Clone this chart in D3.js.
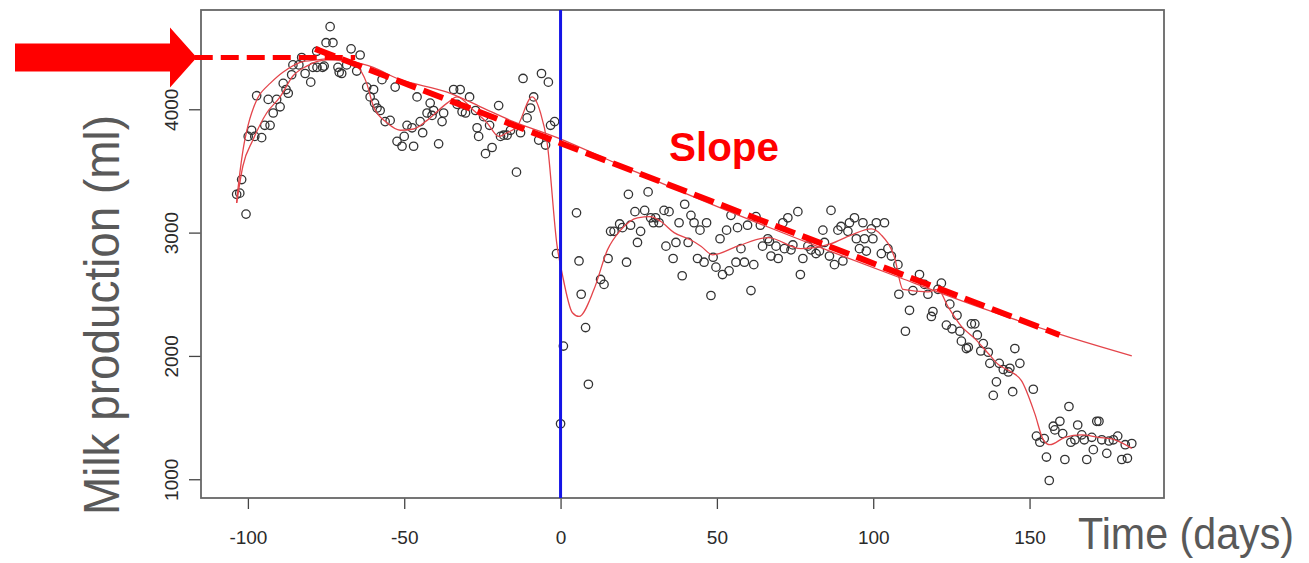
<!DOCTYPE html>
<html><head><meta charset="utf-8">
<script src="https://cdn.jsdelivr.net/npm/d3@7"></script>
<style>html,body{margin:0;padding:0;background:#fff;} svg{display:block}</style>
</head><body>
<svg id="c" width="1309" height="563"></svg>
<script>
// ---- data ----
const days = [-103.6,-102.6,-102.0,-100.6,-99.9,-98.8,-97.8,-97.2,-95.6,-94.6,-93.5,-92.9,-91.9,-90.8,-89.7,-88.7,-87.8,-87.1,-86.0,-85.6,-83.7,-82.8,-81.7,-79.9,-79.2,-78.0,-77.9,-76.1,-75.6,-75.0,-73.7,-72.8,-71.2,-70.8,-70.0,-68.4,-67.0,-65.2,-64.1,-62.0,-60.9,-59.8,-59.5,-58.7,-57.7,-57.1,-56.1,-54.5,-52.9,-52.3,-50.7,-50.0,-49.1,-47.5,-47.0,-45.9,-44.9,-44.1,-42.7,-41.7,-41.1,-40.6,-39.0,-37.9,-37.4,-34.2,-33.1,-32.1,-31.5,-30.4,-29.1,-27.2,-26.7,-26.2,-24.6,-24.0,-22.7,-21.9,-19.8,-19.2,-18.2,-17.1,-16.0,-14.1,-12.8,-12.0,-10.7,-9.6,-8.6,-7.0,-6.1,-4.8,-3.9,-3.2,-1.9,-1.3,0,0.9,5.1,5.9,6.6,8.0,8.9,12.8,13.9,15.2,16.0,17.1,18.9,19.8,21.1,21.7,22.4,23.8,24.6,25.6,26.9,28.0,28.8,29.7,30.4,31.5,33.1,33.7,34.7,36.0,36.9,37.9,38.9,39.7,40.8,41.7,42.7,43.8,44.6,45.9,46.7,48.1,48.8,49.7,51.0,51.8,53.1,53.9,54.5,56.1,56.6,57.7,58.8,59.8,60.9,61.8,62.5,63.9,64.6,66.3,66.8,67.3,68.9,69.6,71.1,71.6,72.7,73.7,74.3,75.9,76.7,77.5,79.1,80.1,81.7,82.8,83.9,84.4,86.0,86.5,87.6,88.7,89.7,90.3,91.9,92.4,94.0,94.6,95.6,96.7,97.2,97.8,99.4,99.9,101.0,102.6,103.6,104.7,105.8,107.9,108.2,110.3,111.6,112.7,114.8,116.4,117.5,118.6,119.1,120.7,121.8,123.4,124.5,125.2,126.8,127.7,128.2,129.8,130.4,131.4,132.5,133.3,134.4,135.2,136.8,137.3,138.4,139.4,140.3,141.6,143.2,143.7,144.6,145.3,146.9,151.2,152.2,153.3,154.7,155.4,156.3,157.6,158.1,159.7,160.6,161.3,162.6,163.2,164.5,165.4,166.7,167.5,168.3,169.9,170.4,171.5,172.2,173.1,174.7,175.4,176.8,178.2,179.5,180.6,181.3,182.7];
const milk = [3310,3320,3430,3150,3780,3830,3780,4110,3770,3870,4080,3870,3970,4080,4020,4210,4160,4130,4280,4360,4360,4420,4290,4220,4340,4470,4340,4340,4350,4540,4670,4540,4340,4300,4290,4360,4490,4310,4440,4180,4100,4160,4050,4010,3990,4240,3900,3910,4180,3740,3700,3780,3870,3850,3700,4100,3900,3810,3970,4050,3950,3990,3720,3900,3970,4160,4040,4160,3980,3970,4100,3990,3850,3780,3940,3640,3870,3690,4030,3780,3790,3790,3830,3490,3810,4250,3930,4010,4100,3750,4290,3710,4220,3870,3900,2830,1450,2080,3160,2770,2500,2230,1770,2620,2580,2790,3010,3010,3070,3040,2760,3310,3060,3170,2920,3010,3180,3330,3120,3080,3120,3080,3180,2890,3170,2790,2920,3080,2650,3230,2920,3140,3080,2790,3020,2760,3080,2490,2800,2720,2950,2660,3020,2690,3140,2760,3040,2870,2760,3060,2530,2740,3130,3060,2890,2950,2930,2810,2890,2790,3080,2870,3120,2860,2900,3170,2660,2790,2890,2860,2830,2850,3020,2920,2810,3180,2740,3020,3050,2770,3010,3080,3120,2950,2870,3080,2950,2850,3030,2950,3080,2830,3080,2870,2810,2740,2500,2200,2370,2530,2660,2580,2500,2320,2360,2540,2590,2250,2420,2220,2330,2200,2120,2060,2070,2260,2260,2170,2040,2100,2030,1940,1680,1790,1940,1890,1870,1900,1710,2060,1940,1730,1350,1300,1330,1180,990,1430,1400,1470,1370,1160,1590,1300,1320,1440,1360,1320,1160,1340,1240,1470,1470,1320,1210,1310,1320,1350,1160,1280,1170,1290];

// fitted lactation curve (smooth red)
const fitDays = [-103.6,-102.6,-101.0,-98.8,-96.2,-92.9,-88.8,-83.3,-78.0,-72.8,-67.3,-59.9,-51.3,-36.3,-25.6,-15.1,-1.1,22.4,44.9,76.9,109.0,134.6,160.3,182.7];
const fitMilk = [3240,3480,3750,3970,4120,4210,4300,4380,4400,4410,4390,4340,4240,4140,4020,3900,3770,3510,3265,2940,2630,2390,2170,2000];

// local smoother through the points (wiggly red)
const smoothDays = [-103.6,-101.6,-98.4,-94.0,-89.7,-85.6,-81.2,-74.8,-68.9,-65.2,-62.0,-59.8,-55.5,-51.3,-47.0,-42.7,-36.3,-33.1,-27.8,-23.5,-19.8,-17.1,-13.9,-9.1,-6.4,-4.3,-1.1,0.5,3.8,5.9,10.7,15.0,19.2,24.6,28.8,32.1,36.3,41.7,44.9,48.6,56.6,66.3,76.9,86.5,92.9,99.4,102.6,106.8,109.5,117.5,120.7,123.9,128.2,132.5,136.8,140.0,144.2,147.4,151.7,154.4,156.5,161.3,166.7,172.0,177.3,182.7];
const smoothMilk = [3240,3540,3750,3970,4100,4270,4350,4400,4390,4350,4210,4020,3890,3830,3840,3910,4050,4100,3990,3890,3780,3810,3860,4100,3970,3730,2890,2670,2350,2320,2540,2860,3020,3120,3130,3090,3000,2940,2890,2820,2890,2960,2870,2910,2980,3030,2980,2800,2540,2520,2540,2400,2240,2140,2020,1930,1870,1800,1530,1320,1280,1340,1360,1340,1320,1250];

// annotation lines
const slopeDays = [-78.5, 159.6];
const slopeMilk = [4490, 2170];
const peakDays = [-117, -65.7];
const peakMilk = [4420, 4420];
const changeDay = 0;

const xTicks = [-100, -50, 0, 50, 100, 150];
const yTicks = [1000, 2000, 3000, 4000];

const xTitle = "Time (days)";
const yTitle = "Milk production (ml)";
const slopeLabel = "Slope";

// ---- drawing ----
const svg = d3.select("#c");
const L = 201, R = 1164, T = 10, B = 498;
const x = d3.scaleLinear().domain([-115, 193]).range([L, R]);
const y = d3.scaleLinear().domain([848, 4805]).range([B, T]);
const fmt = d => String(d);

// axes
const xa = svg.append("g").attr("transform", `translate(0,${B})`)
  .call(d3.axisBottom(x).tickValues(xTicks).tickSize(11).tickFormat(fmt));
xa.select(".domain").remove();
xa.selectAll("line").attr("stroke", "#444").attr("stroke-width", 1.3);
xa.selectAll("text").attr("y", 46).attr("dy", 0)
  .attr("font-family", "Liberation Sans, Arial, sans-serif").attr("font-size", 19).attr("fill", "#2a2a2a");

const ya = svg.append("g").attr("transform", `translate(${L},0)`)
  .call(d3.axisLeft(y).tickValues(yTicks).tickSize(12).tickFormat(fmt));
ya.select(".domain").remove();
ya.selectAll("line").attr("stroke", "#444").attr("stroke-width", 1.3);
ya.selectAll("text").attr("x", 0).attr("y", -23).attr("dy", 0)
  .attr("transform", "rotate(-90)").attr("text-anchor", "middle")
  .attr("font-family", "Liberation Sans, Arial, sans-serif").attr("font-size", 19).attr("fill", "#2a2a2a");

// box
svg.append("rect").attr("x", L).attr("y", T).attr("width", R - L).attr("height", B - T)
  .attr("fill", "none").attr("stroke", "#666").attr("stroke-width", 1.8);

// points
const pts = days.map((d, i) => [d, milk[i]]);
svg.append("g").selectAll("circle").data(pts).join("circle")
  .attr("cx", d => x(d[0])).attr("cy", d => y(d[1])).attr("r", 4.2)
  .attr("fill", "none").attr("stroke", "#333").attr("stroke-width", 1.3);

// smooth curves
const fit = fitDays.map((d, i) => [d, fitMilk[i]]);
const sm = smoothDays.map((d, i) => [d, smoothMilk[i]]);
svg.append("path").attr("d", d3.line().x(d => x(d[0])).y(d => y(d[1])).curve(d3.curveCatmullRom)(fit))
  .attr("fill", "none").attr("stroke", "#e4454b").attr("stroke-width", 1.3);
svg.append("path").attr("d", d3.line().x(d => x(d[0])).y(d => y(d[1])).curve(d3.curveMonotoneX)(sm))
  .attr("fill", "none").attr("stroke", "#e4454b").attr("stroke-width", 1.3);

// vertical line
svg.append("line").attr("x1", x(changeDay)).attr("x2", x(changeDay)).attr("y1", T).attr("y2", B)
  .attr("stroke", "#1414e6").attr("stroke-width", 3);

// dashed annotation lines
svg.append("line").attr("x1", x(peakDays[0])).attr("x2", x(peakDays[1]))
  .attr("y1", y(peakMilk[0])).attr("y2", y(peakMilk[1]))
  .attr("stroke", "#ff0000").attr("stroke-width", 5).attr("stroke-dasharray", "18,8");
svg.append("line").attr("x1", x(slopeDays[0])).attr("x2", x(slopeDays[1]))
  .attr("y1", y(slopeMilk[0])).attr("y2", y(slopeMilk[1]))
  .attr("stroke", "#ff0000").attr("stroke-width", 6).attr("stroke-dasharray", "21,8");

// big arrow pointing at the peak level
const ay = y(peakMilk[0]);
const tipX = x(peakDays[0]) + 2;
svg.append("path")
  .attr("d", `M15,${ay - 14} L170,${ay - 14} L170,${ay - 30} L${tipX},${ay} L170,${ay + 30} L170,${ay + 14} L15,${ay + 14} Z`)
  .attr("fill", "#ff0000");

// texts
svg.append("text").attr("x", 669).attr("y", 161).text(slopeLabel)
  .attr("font-family", "Liberation Sans, Arial, sans-serif").attr("font-weight", "bold")
  .attr("font-size", 40).attr("fill", "#ff0000").attr("textLength", 110).attr("lengthAdjust", "spacingAndGlyphs");

svg.append("text").attr("x", 1078).attr("y", 549).text(xTitle)
  .attr("font-family", "Liberation Sans, Arial, sans-serif").attr("font-size", 44)
  .attr("fill", "#595959").attr("textLength", 216).attr("lengthAdjust", "spacingAndGlyphs");

svg.append("text").attr("transform", "translate(119,315) rotate(-90)").attr("text-anchor", "middle")
  .text(yTitle)
  .attr("font-family", "Liberation Sans, Arial, sans-serif").attr("font-size", 50)
  .attr("fill", "#595959").attr("textLength", 400).attr("lengthAdjust", "spacingAndGlyphs");
</script>
</body></html>
